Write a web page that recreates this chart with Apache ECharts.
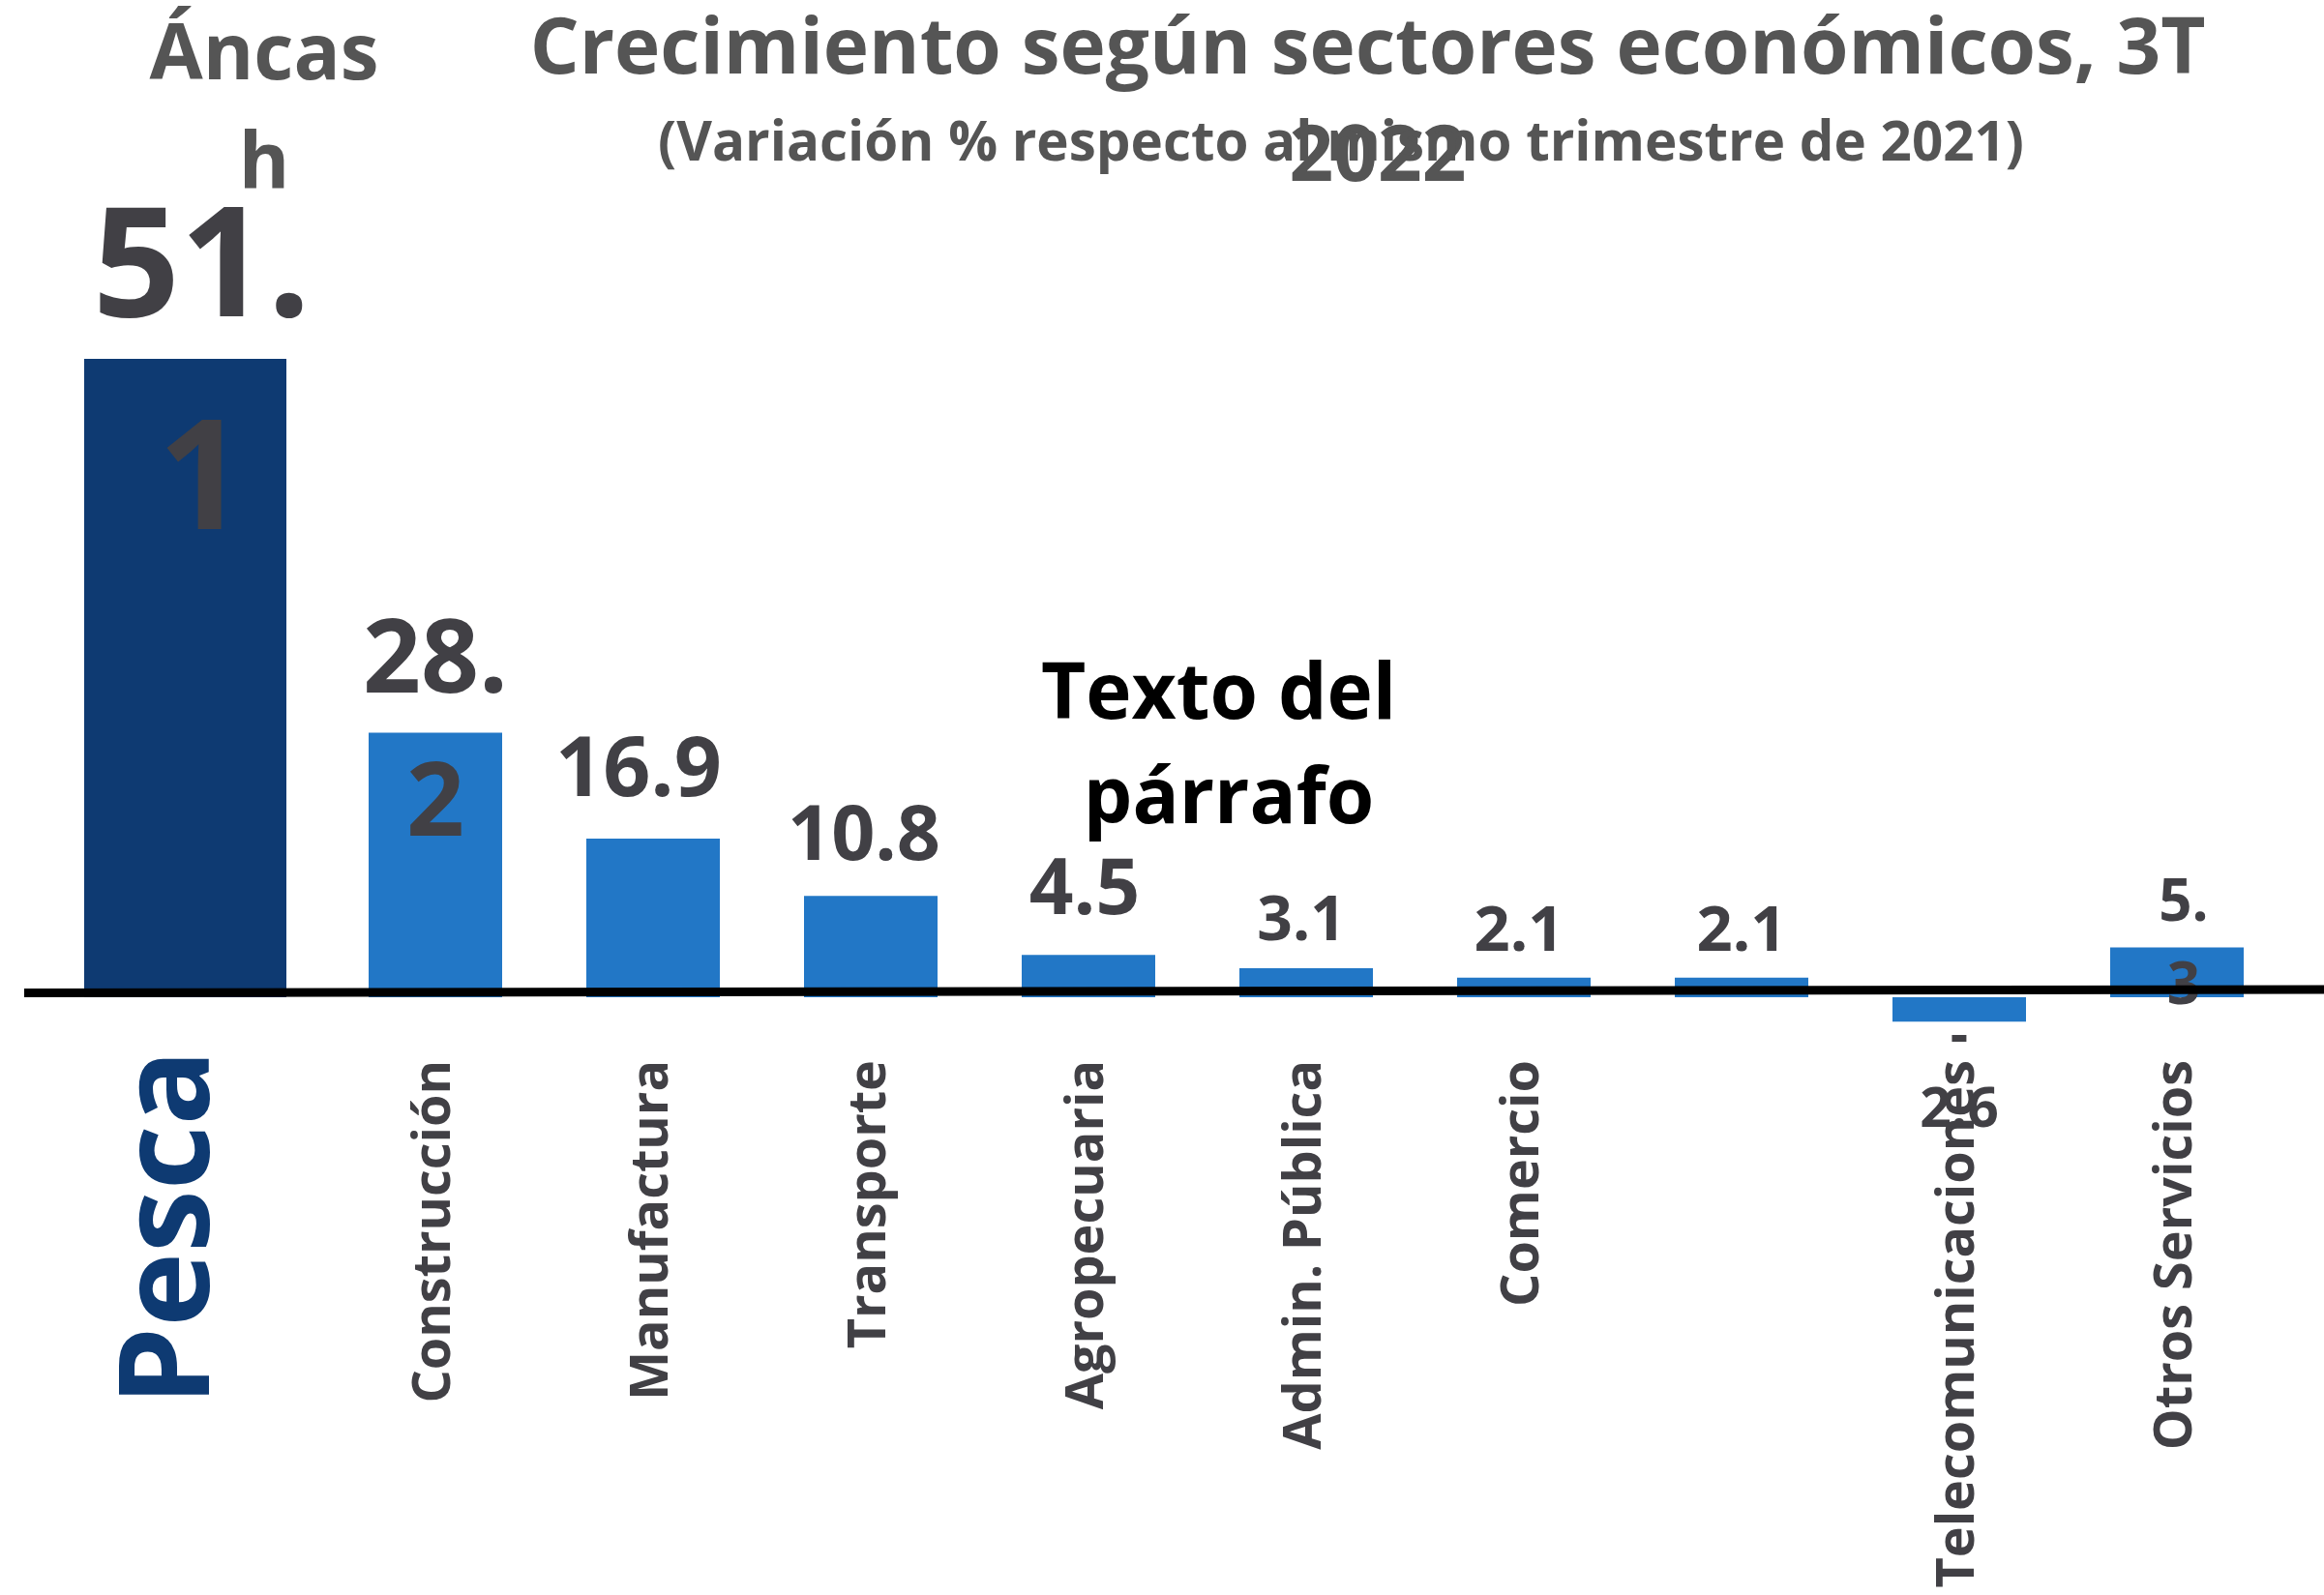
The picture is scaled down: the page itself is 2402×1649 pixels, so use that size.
<!DOCTYPE html>
<html>
<head>
<meta charset="utf-8">
<script src="https://cdn.jsdelivr.net/npm/echarts@6/dist/echarts.min.js"></script>
<style>
html,body{margin:0;padding:0;background:#ffffff;}
#chart{width:2402px;height:1649px;}
</style>
</head>
<body>
<div id="chart"></div>
<script>
// ---- data ----
const pescaCategories = ['Pesca'];
const pescaValues = [51.1];
const sectorCategories = ['Construcción', 'Manufactura', 'Transporte', 'Agropecuaria', 'Admin. Pública', 'Comercio', '', 'Telecomunicaciones', 'Otros Servicios'];
const sectorValues = [28.2, 16.9, 10.8, 4.5, 3.1, 2.1, 2.1, -2.6, 5.3];
const titleText = 'Crecimiento según sectores económicos, 3T 2022';
const subtitleText = '(Variación % respecto al mismo trimestre de 2021)';
const regionText = 'Áncash';
const noteText = 'Texto del párrafo';

// ---- styles ----
const FONT = '"Open Sans", "Noto Sans", sans-serif';
const LABEL_COLOR = '#414045';
const TITLE_COLOR = '#555555';
const DARK_BLUE = '#0E3A72';
const BLUE = '#2277C6';

const pescaLabelStyle = [{fontSize: 158, lineHeight: 220, distance: -241, offset: [17, 0], wrap: 'dot'}];
const sectorLabelStyle = [
  {fontSize: 105, lineHeight: 148, distance: -151, wrap: 'dot'},
  {fontSize: 86, lineHeight: 122, distance: 8, offset: [-15, 0]},
  {fontSize: 79, lineHeight: 112, distance: 3.5, offset: [-7, 0]},
  {fontSize: 80, lineHeight: 114, distance: 8, offset: [-4, 0]},
  {fontSize: 64, lineHeight: 91, distance: 1.5, offset: [-5, 0]},
  {fontSize: 65, lineHeight: 92, distance: 0.5, offset: [-5, 0]},
  {fontSize: 65, lineHeight: 92, distance: 0.5},
  {fontSize: 57, lineHeight: 76, distance: -21, wrap: 'sign', position: 'bottom'},
  {fontSize: 60, lineHeight: 86, distance: -84, offset: [7, 0], wrap: 'dot'}
];

function labelText(v, wrap) {
  const s = v.toFixed(1);
  if (wrap === 'dot') return s.replace('.', '.\n');
  if (wrap === 'sign') return s.replace('-', '-\n');
  return s;
}
function buildItems(values, styles) {
  return values.map(function (v, i) {
    const st = styles[i];
    return {
      value: v,
      label: {
        position: st.position || 'top',
        distance: st.distance,
        offset: st.offset || [0, 0],
        fontSize: st.fontSize,
        lineHeight: st.lineHeight,
        formatter: labelText(v, st.wrap)
      }
    };
  });
}

const baseLabel = {
  show: true,
  color: LABEL_COLOR,
  fontFamily: FONT,
  fontWeight: 'bold',
  align: 'center'
};

const chart = echarts.init(document.getElementById('chart'), null, {renderer: 'canvas'});
chart.setOption({
  animation: false,
  backgroundColor: '#ffffff',
  title: [
    {text: titleText, left: 1424, top: -2, textAlign: 'center', padding: 0,
      textStyle: {fontFamily: FONT, fontWeight: 'bold', fontSize: 80, lineHeight: 111, color: TITLE_COLOR, width: 1850, overflow: 'break'}},
    {text: subtitleText, left: 1386, top: 110, textAlign: 'center', padding: 0,
      textStyle: {fontFamily: FONT, fontWeight: 'bold', fontSize: 56.5, lineHeight: 80, color: TITLE_COLOR}},
    {text: regionText, left: 273, top: 3, textAlign: 'center', padding: 0,
      textStyle: {fontFamily: FONT, fontWeight: 'bold', fontSize: 80, lineHeight: 112, color: TITLE_COLOR, width: 270, overflow: 'breakAll'}},
    {text: noteText, left: 1270, top: 666, textAlign: 'center', padding: 0,
      textStyle: {fontFamily: FONT, fontWeight: 'bold', fontSize: 80, lineHeight: 108, color: '#000000', width: 540, overflow: 'break'}}
  ],
  grid: [
    {left: 60, width: 263, top: 256, bottom: 618, outerBoundsMode: 'none'},
    {left: 337.5, width: 2025, top: 449, bottom: 569.5, outerBoundsMode: 'none'}
  ],
  xAxis: [
    {type: 'category', gridIndex: 0, data: pescaCategories,
      axisLine: {show: false}, axisTick: {show: false},
      axisLabel: {rotate: 90, margin: 54, interval: 0, fontFamily: FONT, fontWeight: 'bold', fontSize: 130, color: DARK_BLUE, verticalAlign: 'bottom', lineHeight: 26}},
    {type: 'category', gridIndex: 1, data: sectorCategories,
      axisLine: {show: false}, axisTick: {show: false},
      axisLabel: {rotate: 90, margin: 16.5, interval: 0, fontFamily: FONT, fontWeight: 'bold', fontSize: 54, color: LABEL_COLOR}}
  ],
  yAxis: [
    {type: 'value', gridIndex: 0, min: 0, max: 60, show: false},
    {type: 'value', gridIndex: 1, min: -5, max: 60, show: false}
  ],
  series: [
    {type: 'bar', xAxisIndex: 0, yAxisIndex: 0, barWidth: 209,
      itemStyle: {color: DARK_BLUE}, label: baseLabel,
      data: buildItems(pescaValues, pescaLabelStyle)},
    {type: 'bar', xAxisIndex: 1, yAxisIndex: 1, barWidth: 138,
      itemStyle: {color: BLUE}, label: baseLabel,
      data: buildItems(sectorValues, sectorLabelStyle)}
  ],
  graphic: [
    {type: 'line', z: 100, shape: {x1: 25, y1: 1026.5, x2: 2402, y2: 1023},
      style: {stroke: '#000000', lineWidth: 9}}
  ]
});
</script>
</body>
</html>
